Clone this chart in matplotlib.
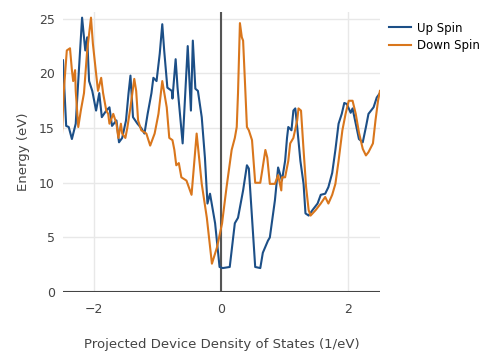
import numpy as np
import matplotlib.pyplot as plt

# spin-resolved projected DOS traces
up_x = [-2.48, -2.43, -2.39, -2.34, -2.28, -2.23, -2.18, -2.13, -2.10, -2.07,
        -2.02, -1.96, -1.91, -1.87, -1.80, -1.75, -1.71, -1.64, -1.60, -1.55,
        -1.49, -1.45, -1.42, -1.38, -1.31, -1.25, -1.20, -1.15, -1.09, -1.06,
        -1.01, -0.96, -0.92, -0.89, -0.84, -0.77, -0.76, -0.71, -0.68, -0.60,
        -0.52, -0.47, -0.44, -0.40, -0.36, -0.30, -0.25, -0.21, -0.17, -0.09,
        -0.02, 0.03, 0.14, 0.22, 0.27, 0.35, 0.41, 0.44, 0.54, 0.62,
        0.66, 0.74, 0.77, 0.85, 0.90, 0.96, 1.01, 1.04, 1.06, 1.11,
        1.14, 1.17, 1.20, 1.25, 1.30, 1.33, 1.38, 1.44, 1.52, 1.57,
        1.64, 1.69, 1.75, 1.80, 1.85, 1.90, 1.94, 1.98, 2.04, 2.07,
        2.12, 2.17, 2.23, 2.28, 2.32, 2.40, 2.45, 2.50]
up_y = [21.2, 15.2, 15.1, 14.0, 15.4, 20.3, 25.1, 22.1, 23.3, 19.3,
        18.4, 16.6, 18.2, 16.0, 16.6, 16.9, 15.2, 15.7, 13.7, 14.1,
        15.7, 18.2, 19.8, 16.0, 15.4, 15.0, 14.5, 16.3, 18.2, 19.6,
        19.3, 21.8, 24.5, 22.1, 18.7, 18.4, 17.7, 21.3, 18.7, 13.6,
        22.5, 16.6, 23.0, 18.6, 18.4, 16.0, 12.3, 8.1, 9.0, 6.3,
        2.3, 2.2, 2.3, 6.3, 6.8, 9.3, 11.6, 11.3, 2.3, 2.2,
        3.6, 4.7, 5.0, 8.4, 11.4, 10.2, 12.0, 14.1, 15.1, 14.8,
        16.6, 16.8, 15.1, 12.0, 9.9, 7.2, 7.0, 7.5, 8.1, 8.9,
        9.0, 9.6, 10.9, 13.0, 15.4, 16.3, 17.3, 17.2, 16.4, 16.8,
        15.4, 14.0, 13.7, 15.1, 16.3, 16.9, 17.8, 18.2]

down_x = [-2.50, -2.47, -2.42, -2.37, -2.34, -2.32, -2.29, -2.28, -2.24, -2.20,
          -2.15, -2.10, -2.04, -2.01, -1.96, -1.93, -1.88, -1.85, -1.80, -1.77,
          -1.75, -1.69, -1.64, -1.61, -1.57, -1.55, -1.50, -1.47, -1.42, -1.36,
          -1.33, -1.30, -1.25, -1.17, -1.11, -1.04, -0.98, -0.92, -0.85, -0.81,
          -0.76, -0.73, -0.70, -0.66, -0.62, -0.54, -0.46, -0.38, -0.30, -0.22,
          -0.14, -0.06, 0.02, 0.03, 0.09, 0.17, 0.22, 0.25, 0.27, 0.30,
          0.33, 0.35, 0.38, 0.41, 0.44, 0.49, 0.54, 0.62, 0.65, 0.70,
          0.73, 0.77, 0.85, 0.90, 0.95, 0.96, 1.01, 1.06, 1.09, 1.14,
          1.20, 1.22, 1.26, 1.30, 1.34, 1.38, 1.41, 1.49, 1.57, 1.64,
          1.69, 1.75, 1.80, 1.85, 1.91, 1.96, 2.01, 2.07, 2.12, 2.17,
          2.23, 2.28, 2.32, 2.39, 2.43, 2.47, 2.50]
down_y = [13.9, 18.2, 22.1, 22.3, 20.3, 19.3, 20.3, 18.4, 15.1, 16.6,
          18.2, 22.1, 25.1, 22.7, 20.0, 18.4, 19.6, 18.2, 16.6, 16.3,
          15.4, 16.3, 15.4, 14.1, 15.4, 14.5, 14.1, 15.0, 16.9, 19.5,
          18.4, 15.7, 14.8, 14.5, 13.4, 14.5, 16.3, 19.3, 16.9, 14.1,
          13.9, 13.0, 11.6, 11.8, 10.5, 10.2, 8.9, 14.5, 9.9, 6.8,
          2.6, 4.1, 6.3, 6.8, 9.6, 13.0, 14.1, 15.1, 18.2, 24.6,
          23.3, 23.0, 19.1, 15.1, 14.8, 13.9, 10.0, 10.0, 11.1, 13.0,
          12.3, 9.9, 9.9, 10.7, 9.3, 10.5, 10.5, 12.0, 13.6, 14.1,
          15.7, 16.8, 16.6, 13.0, 9.6, 7.5, 7.0, 7.5, 8.1, 8.7,
          8.1, 8.9, 9.9, 12.0, 14.8, 16.3, 17.5, 17.5, 16.3, 14.6,
          13.1, 12.5, 12.8, 13.6, 15.7, 17.5, 18.4]

x_ticks = [-2, 0, 2]
y_ticks = [0, 5, 10, 15, 20, 25]

fig = plt.figure(figsize=(4.96, 3.58), dpi=100)
ax = fig.add_axes([0.127, 0.184, 0.639, 0.782])

ax.plot(up_x, up_y, color='#1c4f87', lw=1.5, label='Up Spin', zorder=3)
ax.plot(down_x, down_y, color='#d9761c', lw=1.5, label='Down Spin', zorder=3)

ax.set_xlim(-2.48, 2.5)
ax.set_ylim(0, 25.6)
ax.set_xticks(x_ticks)
ax.set_yticks(y_ticks)
ax.set_xticklabels(['\u22122', '0', '2'])

ax.grid(True, color='#e8e8e8', lw=1)
ax.set_axisbelow(True)
ax.axvline(0, color='#555555', lw=1.5, zorder=2)
ax.axhline(0, color='#444444', lw=1.5, zorder=2)
for s in ax.spines.values():
    s.set_visible(False)
ax.tick_params(length=0, labelsize=9, colors='#444444', pad=8)
ax.tick_params(axis='y', pad=6)

ax.set_xlabel('Projected Device Density of States (1/eV)', fontsize=9.5,
              color='#444444', labelpad=16)
ax.set_ylabel('Energy (eV)', fontsize=9.5, color='#444444', labelpad=6)

ax.legend(loc='upper left', bbox_to_anchor=(1.0, 1.0), frameon=False,
          fontsize=8.5, handlelength=1.8, handletextpad=0.5,
          labelspacing=0.4, borderaxespad=0.4)

fig.savefig('out.png', dpi=100)
